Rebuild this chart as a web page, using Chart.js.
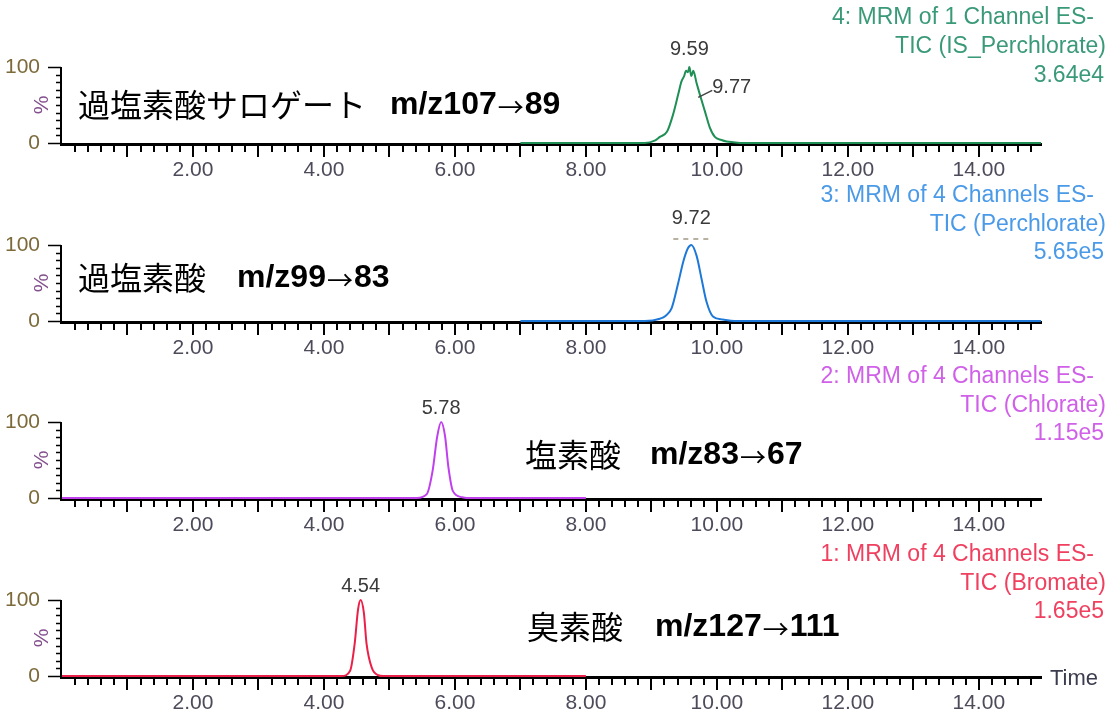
<!DOCTYPE html>
<html>
<head>
<meta charset="utf-8">
<script src="https://cdn.jsdelivr.net/npm/chart.js@4.4.1/dist/chart.umd.min.js"></script>
<style>
  body { margin: 0; background: #fff; width: 1120px; height: 716px; position: relative; overflow: hidden; }
  canvas { position: absolute; left: 0; }
</style>
</head>
<body>
<canvas id="p1" width="1120" height="200" style="top:0px"></canvas>
<canvas id="p2" width="1120" height="200" style="top:178px"></canvas>
<canvas id="p3" width="1120" height="200" style="top:355px"></canvas>
<canvas id="p4" width="1120" height="183" style="top:533px"></canvas>
<script>
const xMax = 14.95;
const xLabelTicks = [2, 4, 6, 8, 10, 12, 14];

// 4: IS_Perchlorate  m/z107->89
const isTime = [7.00, 8.90, 9.05, 9.13, 9.24, 9.33, 9.41, 9.46, 9.50, 9.53, 9.56, 9.58, 9.61, 9.64, 9.69, 9.74, 9.82, 9.89, 9.97, 10.07, 10.15, 10.25, 10.40, 14.95];
const isPct = [0, 0, 3, 8, 15, 37, 64, 81, 88, 95, 93, 100, 88, 95, 79, 64, 41, 21, 8, 4, 2, 1, 0, 0];
const isPeakRt = [9.58, 9.70];
const isPeakText = ["9.59", "9.77"];

// 3: Perchlorate  m/z99->83
const perTime = [7.00, 8.90, 9.13, 9.22, 9.31, 9.41, 9.49, 9.56, 9.61, 9.69, 9.77, 9.84, 9.94, 10.09, 10.27, 14.95];
const perPct = [0, 0, 3, 7, 17, 50, 79, 96, 100, 86, 54, 26, 6, 2, 0, 0];
const perPeakRt = [9.61];
const perPeakText = ["9.72"];

// 2: Chlorate  m/z83->67
const chlTime = [0, 5.42, 5.57, 5.66, 5.73, 5.79, 5.85, 5.90, 5.97, 6.11, 6.18, 8.00];
const chlPct = [0, 0, 5, 36, 81, 100, 81, 41, 9, 1, 0, 0];
const chlPeakRt = [5.79];
const chlPeakText = ["5.78"];

// 1: Bromate  m/z127->111
const broTime = [0, 4.27, 4.40, 4.47, 4.52, 4.56, 4.61, 4.65, 4.73, 4.83, 4.90, 8.00];
const broPct = [0, 0, 7, 43, 87, 100, 83, 43, 11, 1, 0, 0];
const broPeakRt = [4.56];
const broPeakText = ["4.54"];

const panels = [
  { id: "p1", time: isTime, pct: isPct, rt: isPeakRt, rtText: isPeakText,
    line: "#1f8f55", head: "#3a9a78",
    header: ["4: MRM of 1 Channel ES-", "TIC (IS_Perchlorate)", "3.64e4"], headY: [18, 47, 76],
    jp: "過塩素酸サロゲート", jpX: 78, mz: ["m/z107", "89"], mzX: 390, textY: 105, peakGap: 18 },
  { id: "p2", time: perTime, pct: perPct, rt: perPeakRt, rtText: perPeakText,
    line: "#1e78d8", head: "#4a9ae8",
    header: ["3: MRM of 4 Channels ES-", "TIC (Perchlorate)", "5.65e5"], headY: [18, 47, 75],
    jp: "過塩素酸", jpX: 78, mz: ["m/z99", "83"], mzX: 237, textY: 100, peakGap: 27 },
  { id: "p3", time: chlTime, pct: chlPct, rt: chlPeakRt, rtText: chlPeakText,
    line: "#c040ee", head: "#d060e8",
    header: ["2: MRM of 4 Channels ES-", "TIC (Chlorate)", "1.15e5"], headY: [22, 51, 79],
    jp: "塩素酸", jpX: 525, mz: ["m/z83", "67"], mzX: 650, textY: 100, peakGap: 14 },
  { id: "p4", time: broTime, pct: broPct, rt: broPeakRt, rtText: broPeakText,
    line: "#ea2048", head: "#f04060",
    header: ["1: MRM of 4 Channels ES-", "TIC (Bromate)", "1.65e5"], headY: [22, 51, 79],
    jp: "臭素酸", jpX: 527, mz: ["m/z127", "111"], mzX: 655, textY: 94, peakGap: 14, timeLabel: true }
];

function decor(p) {
  return {
    id: "decor",
    beforeDatasetsDraw(chart) {
      const { ctx, chartArea: a, scales: { x, y } } = chart;
      ctx.save();
      ctx.strokeStyle = "#000";
      // y axis
      ctx.lineWidth = 2;
      ctx.beginPath();
      ctx.moveTo(a.left - 1, y.getPixelForValue(100));
      ctx.lineTo(a.left - 1, y.getPixelForValue(0) + 2);
      ctx.stroke();
      for (let v = 0; v <= 100; v += 10) {
        const py = Math.round(y.getPixelForValue(v)) + 0.5;
        const len = v % 100 === 0 ? 13 : 5;
        ctx.lineWidth = 1.5;
        ctx.beginPath();
        ctx.moveTo(a.left - 1 - len, py);
        ctx.lineTo(a.left - 1, py);
        ctx.stroke();
      }
      // x axis
      ctx.lineWidth = 3;
      ctx.beginPath();
      ctx.moveTo(a.left - 2, a.bottom + 1.5);
      ctx.lineTo(a.right + 1, a.bottom + 1.5);
      ctx.stroke();
      ctx.lineWidth = 2;
      for (let i = 1; i * 0.2 <= xMax + 1e-9; i++) {
        const px = Math.round(x.getPixelForValue(i * 0.2));
        const len = i % 5 === 0 ? 12 : 7;
        ctx.beginPath();
        ctx.moveTo(px, a.bottom + 2);
        ctx.lineTo(px, a.bottom + 2 + len);
        ctx.stroke();
      }
      // % title
      ctx.fillStyle = "#84508e";
      ctx.font = "21px 'Liberation Sans', Arial";
      ctx.textAlign = "center";
      ctx.textBaseline = "middle";
      ctx.translate(42, (a.top + a.bottom) / 2);
      ctx.rotate(-Math.PI / 2);
      ctx.fillText("%", 0, 0);
      ctx.restore();
    },
    afterDatasetsDraw(chart) {
      const { ctx, chartArea: a, scales: { x, y } } = chart;
      ctx.save();
      // header
      ctx.fillStyle = p.head;
      ctx.font = "23px 'Liberation Sans', Arial";
      ctx.textAlign = "right";
      ctx.textBaseline = "middle";
      ctx.fillText(p.header[0], 1094, p.headY[0]);
      ctx.fillText(p.header[1], 1106, p.headY[1]);
      ctx.fillText(p.header[2], 1104, p.headY[2]);
      // compound label
      ctx.textAlign = "left";
      ctx.fillStyle = "#000";
      ctx.font = "32px 'Noto Sans CJK JP'";
      ctx.fillText(p.jp, p.jpX, p.textY);
      ctx.font = "bold 32px 'Liberation Sans', Arial";
      let cx = p.mzX;
      ctx.fillText(p.mz[0], cx, p.textY);
      cx += ctx.measureText(p.mz[0]).width + 1;
      ctx.font = "26px 'Noto Sans CJK JP'";
      ctx.fillText("→", cx, p.textY + 2);
      cx += ctx.measureText("→").width + 1;
      ctx.font = "bold 32px 'Liberation Sans', Arial";
      ctx.fillText(p.mz[1], cx, p.textY);
      // peak labels
      ctx.fillStyle = "#3a3a3a";
      ctx.font = "20px 'Liberation Sans', Arial";
      const topPx = y.getPixelForValue(100);
      p.rt.forEach((rt, i) => {
        const px = x.getPixelForValue(rt);
        if (i === 0) {
          ctx.textAlign = "center";
          ctx.fillText(p.rtText[i], px, topPx - p.peakGap);
        } else {
          const py = y.getPixelForValue(60);
          ctx.strokeStyle = "#444";
          ctx.lineWidth = 1.5;
          ctx.beginPath();
          ctx.moveTo(px + 1, py);
          ctx.lineTo(px + 15, py - 7);
          ctx.stroke();
          ctx.textAlign = "left";
          ctx.fillText(p.rtText[i], px + 15, py - 10);
        }
      });
      if (p.id === "p2") {
        const px = x.getPixelForValue(p.rt[0]);
        ctx.strokeStyle = "#b8b0a0";
        ctx.lineWidth = 2;
        ctx.setLineDash([5, 5]);
        ctx.beginPath();
        ctx.moveTo(px - 18, topPx - 6);
        ctx.lineTo(px + 20, topPx - 6);
        ctx.stroke();
        ctx.setLineDash([]);
      }
      if (p.timeLabel) {
        ctx.fillStyle = "#3c3c50";
        ctx.font = "22px 'Liberation Sans', Arial";
        ctx.textAlign = "left";
        ctx.fillText("Time", 1050, a.bottom + 3);
      }
      ctx.restore();
    }
  };
}

panels.forEach(p => {
  const canvas = document.getElementById(p.id);
  new Chart(canvas, {
    type: "line",
    data: {
      datasets: [{
        data: p.time.map((t, i) => ({ x: t, y: p.pct[i] })),
        borderColor: p.line,
        borderWidth: 2,
        pointRadius: 0,
        cubicInterpolationMode: "monotone",
        clip: false
      }]
    },
    options: {
      responsive: false,
      animation: false,
      events: [],
      layout: { padding: { top: 67, right: 79, left: 0, bottom: canvas.height - 179 } },
      plugins: { legend: { display: false }, tooltip: { enabled: false } },
      scales: {
        x: {
          type: "linear",
          min: 0,
          max: xMax,
          afterFit: s => { s.height = 36; },
          afterBuildTicks: s => { s.ticks = xLabelTicks.map(v => ({ value: v })); },
          grid: { display: false },
          border: { display: false },
          ticks: {
            autoSkip: false,
            maxRotation: 0,
            padding: 7,
            color: "#4d4a5a",
            font: { family: "'Liberation Sans', Arial", size: 21 },
            callback: v => v.toFixed(2)
          }
        },
        y: {
          min: 0,
          max: 100,
          afterFit: s => { s.width = 62; },
          afterBuildTicks: s => { s.ticks = [{ value: 0 }, { value: 100 }]; },
          grid: { display: false },
          border: { display: false },
          ticks: {
            padding: 14,
            color: "#7d6a3a",
            font: { family: "'Liberation Sans', Arial", size: 21 }
          }
        }
      }
    },
    plugins: [decor(p)]
  });
});
</script>
</body>
</html>
